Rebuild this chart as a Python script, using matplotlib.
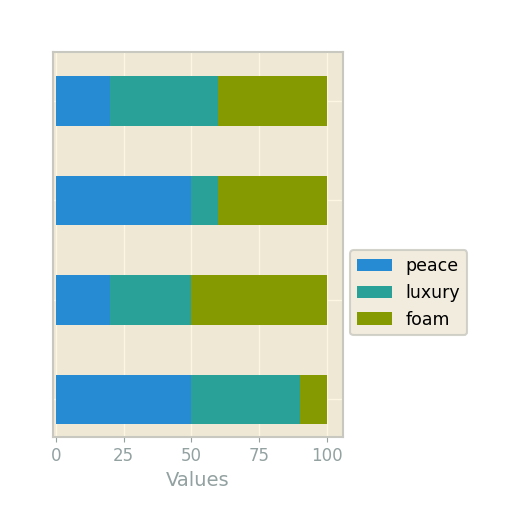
import matplotlib
matplotlib.use('Agg')
import matplotlib.pyplot as plt
import numpy as np

plt.style.use('Solarize_Light2')

categories = ['A', 'B', 'C', 'D']  # bottom to top
peace  = [50, 20, 50, 20]
luxury = [40, 30, 10, 40]
foam   = [10, 50, 40, 40]
series = [('peace', peace, '#268bd2'), ('luxury', luxury, '#2aa198'), ('foam', foam, '#859900')]

fig = plt.figure(figsize=(5.12, 5.12), dpi=100, facecolor='white')
ax = fig.add_axes([0.104, 0.146, 0.566, 0.752])

y = np.arange(len(categories))
left = np.zeros(len(categories))
for name, vals, col in series:
    ax.barh(y, vals, height=0.5, left=left, color=col, label=name)
    left += np.array(vals)

ax.set_xlim(-1, 106)
ax.set_ylim(-0.38, 3.49)
ax.set_xticks([0, 25, 50, 75, 100])
ax.set_yticks(y)
ax.set_yticklabels([])
ax.tick_params(axis='y', length=0)
ax.set_xlabel('Values', color='#93a1a1', fontsize=14)
ax.tick_params(axis='x', colors='#93a1a1', labelsize=12)
for s in ax.spines.values():
    s.set_visible(True)
    s.set_color('#c8c8c0')
    s.set_linewidth(1.5)
leg = ax.legend(loc='center left', bbox_to_anchor=(0.995, 0.375), fontsize=12.5)
leg.get_frame().set_edgecolor('#c8c8c0')
leg.get_frame().set_linewidth(1.5)

fig.savefig('out.png', dpi=100, facecolor='white')
